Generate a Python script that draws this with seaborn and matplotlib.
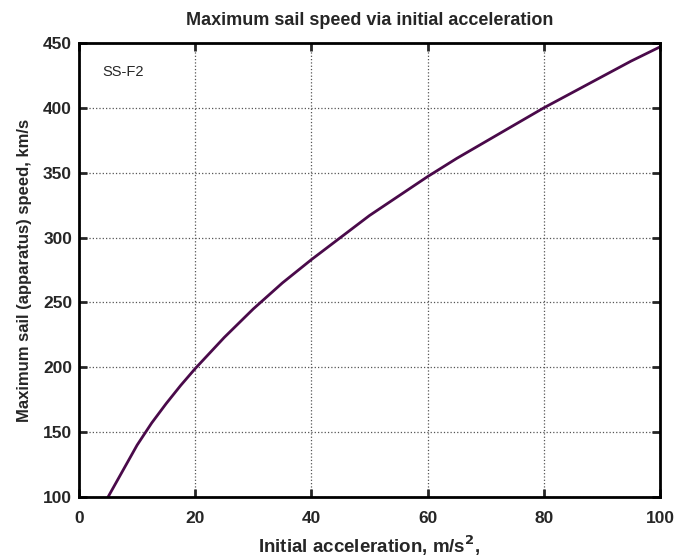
import matplotlib
matplotlib.use("Agg")
import matplotlib.pyplot as plt
import seaborn as sns
import pandas as pd

# values
accel = [5, 7.5, 10, 12.5, 15, 17.5, 20, 25, 30, 35, 40, 45, 50, 55, 60,
         65, 70, 75, 80, 85, 90, 95, 100]
speed = [100, 120, 140, 157, 172, 186, 199, 223, 245, 265, 283, 300, 317,
         332, 347, 361, 374, 387, 400, 412, 424, 436, 447]
x_ticks = [0, 20, 40, 60, 80, 100]
y_ticks = [100, 150, 200, 250, 300, 350, 400, 450]

sns.set_style("ticks")
plt.rcParams['font.family'] = ['Liberation Sans', 'DejaVu Sans']

df = pd.DataFrame({'accel': accel, 'speed': speed})

fig = plt.figure(figsize=(6.77, 5.58), dpi=100)
ax = fig.add_axes([79/677, 61/558, 581/677, 454/558])
sns.lineplot(data=df, x='accel', y='speed', ax=ax, color='#4a0a4a', linewidth=2)

ax.set_xlim(0, 100)
ax.set_ylim(100, 450)
ax.set_xticks(x_ticks)
ax.set_yticks(y_ticks)
ax.grid(True, linestyle=':', color='#555555', linewidth=0.9)
ax.tick_params(direction='in', length=6, width=2, top=True, right=True,
               labelsize=12.5)
ax.tick_params(axis='x', pad=10)
ax.tick_params(axis='y', pad=5)
for lbl in ax.get_xticklabels() + ax.get_yticklabels():
    lbl.set_fontweight('bold')
for sp in ax.spines.values():
    sp.set_linewidth(2)
    sp.set_color('black')

ax.set_title('Maximum sail speed via initial acceleration', fontsize=13,
             fontweight='bold', pad=13)
ax.set_xlabel('Initial acceleration, m/s$^\\mathbf{2}$,', fontsize=13.5,
              fontweight='bold')
ax.xaxis.label.set_va('baseline')
ax.xaxis.set_label_coords(0.5, -56/454)
ax.set_ylabel('Maximum sail (apparatus) speed, km/s', fontsize=12,
              fontweight='bold', labelpad=8)
ax.text(4, 427.5, 'SS-F2', fontsize=10.5, ha='left', va='center')

fig.savefig('out.png', dpi=100)
